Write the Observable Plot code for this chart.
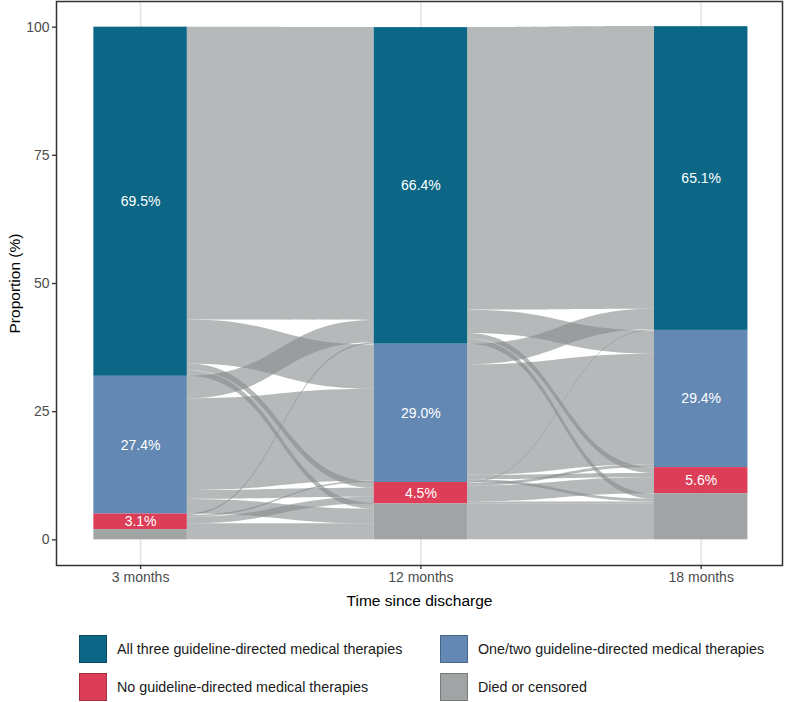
<!DOCTYPE html>
<html>
<head>
<meta charset="utf-8">
<script src="https://cdn.jsdelivr.net/npm/d3@7"></script>
<script src="https://cdn.jsdelivr.net/npm/@observablehq/plot@0.6"></script>
<style>
  body { margin: 0; background: #fff; font-family: "Liberation Sans", Arial, sans-serif; }
  #wrap { position: relative; width: 787px; height: 702px; }
  #chart svg { display: block; }
  .key { position: absolute; width: 28px; height: 28px; box-sizing: border-box; border: 0.6px solid rgba(0,0,0,0.25); }
  .lab { position: absolute; font-size: 14.3px; color: #1a1a1a; line-height: 16px; white-space: nowrap; }
</style>
</head>
<body>
<div id="wrap"><div id="chart"></div></div>
<script>
// Time points on the x axis
const timepoints = ["3 months", "12 months", "18 months"];

// Treatment categories, top of each bar to bottom
const categories = [
  "All three guideline-directed medical therapies",
  "One/two guideline-directed medical therapies",
  "No guideline-directed medical therapies",
  "Died or censored"
];
const colors = ["#0C6787", "#6388B4", "#DC3D57", "#A1A4A5"];

// Share of surviving patients in each treatment group (%)
const allThreePct = [69.5, 66.4, 65.1];
const oneTwoPct   = [27.4, 29.0, 29.4];
const nonePct     = [3.1, 4.5, 5.6];
// Share of the whole cohort that died or was censored (%)
const diedPct     = [2.0, 7.0, 9.0];

// Transitions between consecutive time points (% of cohort)
// rows: origin group, columns: destination group (order of `categories`)
const flows3to12 = [
  [57.1, 8.6, 1.25, 1.15],
  [4.35, 17.9, 1.75, 2.85],
  [0.3, 0.3, 1.3, 1.14],
  [0, 0, 0, 2.0]
];
const flows12to18 = [
  [55.1, 4.55, 1.1, 1.0],
  [4.0, 21.55, 0.85, 0.55],
  [0.15, 0.55, 3.1, 0.4],
  [0, 0, 0, 7.0]
];

const yTicks = [0, 25, 50, 75, 100];
const positions = timepoints.map((_, i) => i + 1);
const halfWidth = 1 / 6;

// Stack the strata of each time point, bottom-up: died, none, one/two, all three
const strata = timepoints.map((t, i) => {
  const alive = 100 - diedPct[i];
  const sizes = [
    alive * allThreePct[i] / 100,
    alive * oneTwoPct[i] / 100,
    alive * nonePct[i] / 100,
    diedPct[i]
  ];
  const out = [];
  let y = 0;
  for (const k of [3, 2, 1, 0]) {
    out[k] = {pos: positions[i], k, cat: categories[k], y1: y, y2: y + sizes[k],
              pct: [allThreePct[i], oneTwoPct[i], nonePct[i], null][k]};
    y += sizes[k];
  }
  return out;
});

// Ribbons between two axes: within a stratum, lodes are ordered by the stratum at the other end
function ribbons(matrix, i) {
  const left = {}, right = {};
  for (const s of [3, 2, 1, 0]) {
    let y = strata[i][s].y1;
    for (const d of [3, 2, 1, 0]) {
      const v = matrix[s][d];
      if (v > 0) { left[s + "-" + d] = [y, y + v]; y += v; }
    }
  }
  for (const d of [3, 2, 1, 0]) {
    let y = strata[i + 1][d].y1;
    for (const s of [3, 2, 1, 0]) {
      const v = matrix[s][d];
      if (v > 0) { right[s + "-" + d] = [y, y + v]; y += v; }
    }
  }
  const pts = [];
  for (const key of Object.keys(left)) {
    const id = i + ":" + key;
    pts.push({id, x: positions[i] + halfWidth, y1: left[key][0], y2: left[key][1]});
    pts.push({id, x: positions[i + 1] - halfWidth, y1: right[key][0], y2: right[key][1]});
  }
  return pts;
}
const flowPoints = [...ribbons(flows3to12, 0), ...ribbons(flows12to18, 1)];

const bars = strata.flat();
const labels = bars.filter(d => d.pct != null);

const chart = Plot.plot({
  width: 787,
  height: 612,
  marginLeft: 56,
  marginRight: 5,
  marginTop: 1,
  marginBottom: 47,
  x: {domain: [0.7, 3.29], axis: null},
  y: {domain: [-5, 105], axis: null},
  color: {domain: categories, range: colors},
  style: {fontFamily: "'Liberation Sans', Arial, sans-serif", background: "white"},
  marks: [
    Plot.ruleX(positions, {stroke: "#e6e6e6", strokeWidth: 1.8}),
    Plot.areaY(flowPoints, {x: "x", y1: "y1", y2: "y2", z: "id", curve: "bump-x",
                            fill: "#858a8c", fillOpacity: 0.6}),
    Plot.rect(bars, {x1: d => d.pos - halfWidth, x2: d => d.pos + halfWidth,
                     y1: "y1", y2: "y2", fill: "cat"}),
    Plot.text(labels, {x: "pos", y: d => (d.y1 + d.y2) / 2, text: d => d.pct.toFixed(1) + "%",
                       fill: "white", fontSize: 14}),
    Plot.frame({stroke: "#333333", strokeWidth: 1.5}),
    Plot.axisY({ticks: yTicks, tickSize: 4, tickPadding: 3, fontSize: 14,
                stroke: "#333333", strokeWidth: 1.3, fill: "#4d4d4d", label: null}),
    Plot.axisX({ticks: positions, tickFormat: d => timepoints[d - 1], tickSize: 4, tickPadding: 3,
                fontSize: 14, stroke: "#333333", strokeWidth: 1.3, fill: "#4d4d4d", label: null}),
    Plot.text(["Time since discharge"], {frameAnchor: "bottom", dy: 36, fontSize: 15.5,
                                        fill: "black", lineAnchor: "middle"}),
    Plot.text(["Proportion (%)"], {frameAnchor: "left", dx: -41, rotate: -90, fontSize: 15.5,
                                  fill: "black", textAnchor: "middle", lineAnchor: "middle"})
  ]
});
document.getElementById("chart").appendChild(chart);

// Legend: two columns, two rows
const wrap = document.getElementById("wrap");
const slots = [[79, 635], [440, 635], [79, 673], [440, 673]];
categories.forEach((cat, k) => {
  const [lx, ly] = slots[k];
  const key = document.createElement("div");
  key.className = "key";
  key.style.left = lx + "px";
  key.style.top = ly + "px";
  key.style.background = colors[k];
  wrap.appendChild(key);
  const lab = document.createElement("div");
  lab.className = "lab";
  lab.style.left = (lx + 38) + "px";
  lab.style.top = (ly + 6) + "px";
  lab.textContent = cat;
  wrap.appendChild(lab);
});
</script>
</body>
</html>
